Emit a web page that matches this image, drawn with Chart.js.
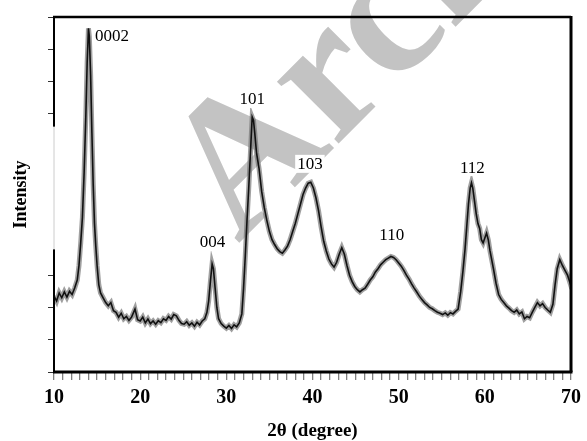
<!DOCTYPE html>
<html><head><meta charset="utf-8">
<script src="https://cdn.jsdelivr.net/npm/chart.js@4/dist/chart.umd.min.js"></script>
<style>html,body{margin:0;padding:0;background:#fff;}canvas{display:block;}</style>
</head><body>
<canvas id="c" width="587" height="441"></canvas>
<script>
// 2θ (degree)
const twoTheta = [
  10.0,10.3,10.6,10.9,11.2,11.5,11.8,12.1,12.4,12.7,
  12.9,13.1,13.3,13.5,13.7,13.85,14.0,14.1,14.25,14.4,
  14.55,14.7,14.85,15.0,15.2,15.4,15.7,16.0,16.3,16.6,
  16.9,17.2,17.5,17.8,18.1,18.4,18.7,19.0,19.4,19.7,
  20.0,20.3,20.6,20.9,21.2,21.5,21.8,22.1,22.4,22.7,
  23.0,23.3,23.6,23.9,24.2,24.5,24.8,25.1,25.4,25.7,
  26.0,26.3,26.6,26.9,27.2,27.5,27.75,27.95,28.15,28.35,
  28.5,28.7,28.9,29.1,29.4,29.7,30.0,30.3,30.6,30.9,
  31.2,31.5,31.8,32.0,32.2,32.4,32.6,32.8,33.0,33.15,
  33.3,33.5,33.8,34.1,34.4,34.7,35.0,35.3,35.6,35.9,
  36.2,36.5,36.8,37.1,37.4,37.7,38.0,38.3,38.6,38.9,
  39.2,39.5,39.8,40.1,40.4,40.7,41.0,41.3,41.6,41.9,
  42.2,42.5,42.8,43.1,43.4,43.7,44.0,44.3,44.6,44.9,
  45.2,45.5,45.8,46.1,46.4,46.7,47.0,47.3,47.6,47.9,
  48.2,48.5,48.8,49.1,49.4,49.7,50.0,50.3,50.6,50.9,
  51.2,51.5,51.8,52.1,52.4,52.7,53.0,53.3,53.6,53.9,
  54.2,54.5,54.8,55.1,55.4,55.7,56.0,56.3,56.6,56.9,
  57.2,57.45,57.7,57.9,58.1,58.3,58.45,58.6,58.8,59.0,
  59.2,59.4,59.6,59.8,60.0,60.2,60.4,60.6,61.0,61.3,
  61.6,61.9,62.2,62.5,62.8,63.1,63.4,63.7,64.0,64.3,
  64.6,64.9,65.2,65.5,65.8,66.1,66.4,66.7,67.0,67.3,
  67.6,67.9,68.15,68.4,68.7,69.0,69.3,69.6,69.9,70.0
];
// Intensity (arbitrary units)
const intensity = [
  23.5,22.0,24.5,23.0,24.8,23.2,25.0,24.0,26.0,28.5,
  33,40,48,62,80,96,106.5,104,92,74,
  58,46,39,33,27,24.5,23,21.5,20.5,21.5,
  19.0,18.5,17.0,18.2,16.5,17.2,16.0,17.0,19.5,16.2,
  15.8,17.0,15.2,16.4,15.0,15.8,14.8,15.9,15.3,16.5,
  16.0,17.2,16.4,17.8,17.4,16.0,15.0,14.8,15.6,14.5,
  15.2,14.2,15.4,14.6,15.8,16.5,18.5,22,28,33.5,
  32,26,20,16.5,15.0,14.2,13.6,14.4,13.5,14.6,
  14.0,15.2,18,26,36,47,57,68,79,78,
  74,68,63,56,51,47,43.5,41,39.5,38.2,
  37.3,36.8,37.8,39,41,43.5,46,49,52,55,
  57,58.5,58.8,57,54,50,45,40.5,37.5,35,
  33.5,32.5,34,36.5,38.5,36.5,33,30,28,26.5,
  25.5,24.8,25.5,26.0,27.2,28.5,29.5,31,32,33.2,
  34,34.8,35.3,35.8,35.5,34.8,33.8,32.8,31.5,30,
  28.8,27.3,26,24.8,23.5,22.5,21.5,20.8,20,19.6,
  19,18.5,18.2,17.8,18.3,17.6,18.4,18.0,18.8,19.5,
  25,31,38,45,52,57,58.6,57,53,49,
  46,44.5,41,40,41.5,43,41,37.5,32,27.5,
  24,22.5,21.5,20.5,19.8,19.0,18.5,19.2,18.0,18.6,
  16.5,17.2,16.8,18.5,20,21.5,20.5,21.2,20.0,19.2,
  18.5,21,27,32,34.8,33,31.5,30,27.5,28
];
// Peak (hkl) labels
const peakNames = ['0002','004','101','103','110','112'];
const peakX = [14.75, 28.4, 33.0, 39.7, 49.2, 58.55];
const peakY = [104.4, 40.3, 84.6, 64.5, 42.5, 63.5];
const peakAlign = ['left','center','center','center','center','center'];
// x tick labels
const xTickLabels = [10,20,30,40,50,60,70];

const points = twoTheta.map((x,i)=>({x:x, y:intensity[i]}));

const bgPlugin = {
  id:'bg',
  beforeDraw(chart){
    const ctx = chart.ctx;
    ctx.save();
    ctx.fillStyle = '#fff';
    ctx.fillRect(0,0,chart.width,chart.height);
    // watermark
    ctx.translate(238, 244);
    ctx.rotate(-0.785);
    ctx.fillStyle = '#c3c3c3';
    ctx.font = 'bold 190px "Liberation Serif"';
    ctx.textAlign = 'left';
    ctx.textBaseline = 'alphabetic';
    ctx.fillText('Archive', 0, 0);
    ctx.restore();
  }
};

const framePlugin = {
  id:'frame',
  afterDatasetsDraw(chart){
    const ctx = chart.ctx, a = chart.chartArea;
    const ys = chart.scales.y, xs = chart.scales.x;
    ctx.save();
    ctx.strokeStyle = '#000';
    ctx.lineWidth = 2.5;
    ctx.beginPath(); ctx.moveTo(a.left-1, a.top); ctx.lineTo(a.right, a.top); ctx.stroke();
    ctx.lineWidth = 3;
    ctx.beginPath(); ctx.moveTo(a.right, a.top-1); ctx.lineTo(a.right, a.bottom); ctx.stroke();
    ctx.beginPath(); ctx.moveTo(a.left-1, a.bottom); ctx.lineTo(a.right+1.5, a.bottom); ctx.stroke();
    ctx.lineWidth = 2;
    ctx.beginPath(); ctx.moveTo(a.left, a.top); ctx.lineTo(a.left, ys.getPixelForValue(76)); ctx.stroke();
    ctx.beginPath(); ctx.moveTo(a.left, ys.getPixelForValue(38)); ctx.lineTo(a.left, a.bottom); ctx.stroke();
    ctx.lineWidth = 1;
    ctx.strokeStyle = '#ccc';
    ctx.beginPath(); ctx.moveTo(a.left, ys.getPixelForValue(76)); ctx.lineTo(a.left, ys.getPixelForValue(38)); ctx.stroke();
    // peak labels
    ctx.font = '17px "Liberation Serif"';
    ctx.textBaseline = 'middle';
    peakNames.forEach((t,i)=>{
      const px = xs.getPixelForValue(peakX[i]);
      const py = ys.getPixelForValue(peakY[i]);
      const w = ctx.measureText(t).width;
      const lx = peakAlign[i]==='left' ? px : px - w/2;
      ctx.fillStyle = '#fff';
      ctx.fillRect(lx-2, py-9, w+4, 18);
      ctx.fillStyle = '#000';
      ctx.textAlign = 'left';
      ctx.fillText(t, lx, py+1);
    });
    ctx.restore();
  }
};

new Chart(document.getElementById('c'), {
  type:'line',
  data:{datasets:[
    {data:points, borderColor:'#111', borderWidth:1.6, pointRadius:0, tension:0, order:0},
    {data:points, borderColor:'rgba(120,120,120,0.7)', borderWidth:5, pointRadius:0, tension:0, order:1}
  ]},
  options:{
    responsive:false, animation:false,
    plugins:{legend:{display:false}, tooltip:{enabled:false}},
    layout:{padding:{top:17,right:14,left:0,bottom:0}},
    scales:{
      x:{type:'linear', min:10, max:70,
        afterFit(s){ s.height = 69; },
        border:{display:false},
        grid:{drawOnChartArea:false, drawTicks:true, tickLength:8, color:'#808080', lineWidth:1.3},
        ticks:{stepSize:1, autoSkip:false, maxRotation:0, padding:6, color:'#000',
          font:{family:'"Liberation Serif"', size:20, weight:'bold'},
          callback:(v)=> xTickLabels.includes(v) ? String(v) : ''},
        title:{display:true, text:'2θ (degree)', color:'#000', padding:{top:0,bottom:0},
          font:{family:'"Liberation Serif"', size:19, weight:'bold', lineHeight:1}}
      },
      y:{type:'linear', min:0, max:110,
        afterFit(s){ s.width = 54; },
        border:{display:false},
        grid:{drawOnChartArea:false, drawTicks:true, tickLength:6, lineWidth:1,
          color:(c)=> (c.tick && c.tick.value>=40 && c.tick.value<=70) ? 'rgba(0,0,0,0)' : '#333'},
        ticks:{stepSize:10, padding:0, callback:()=>''},
        title:{display:true, text:'Intensity', color:'#000', padding:{top:11,bottom:0},
          font:{family:'"Liberation Serif"', size:18, weight:'bold'}}
      }
    }
  },
  plugins:[bgPlugin, framePlugin]
});
</script>
</body></html>
